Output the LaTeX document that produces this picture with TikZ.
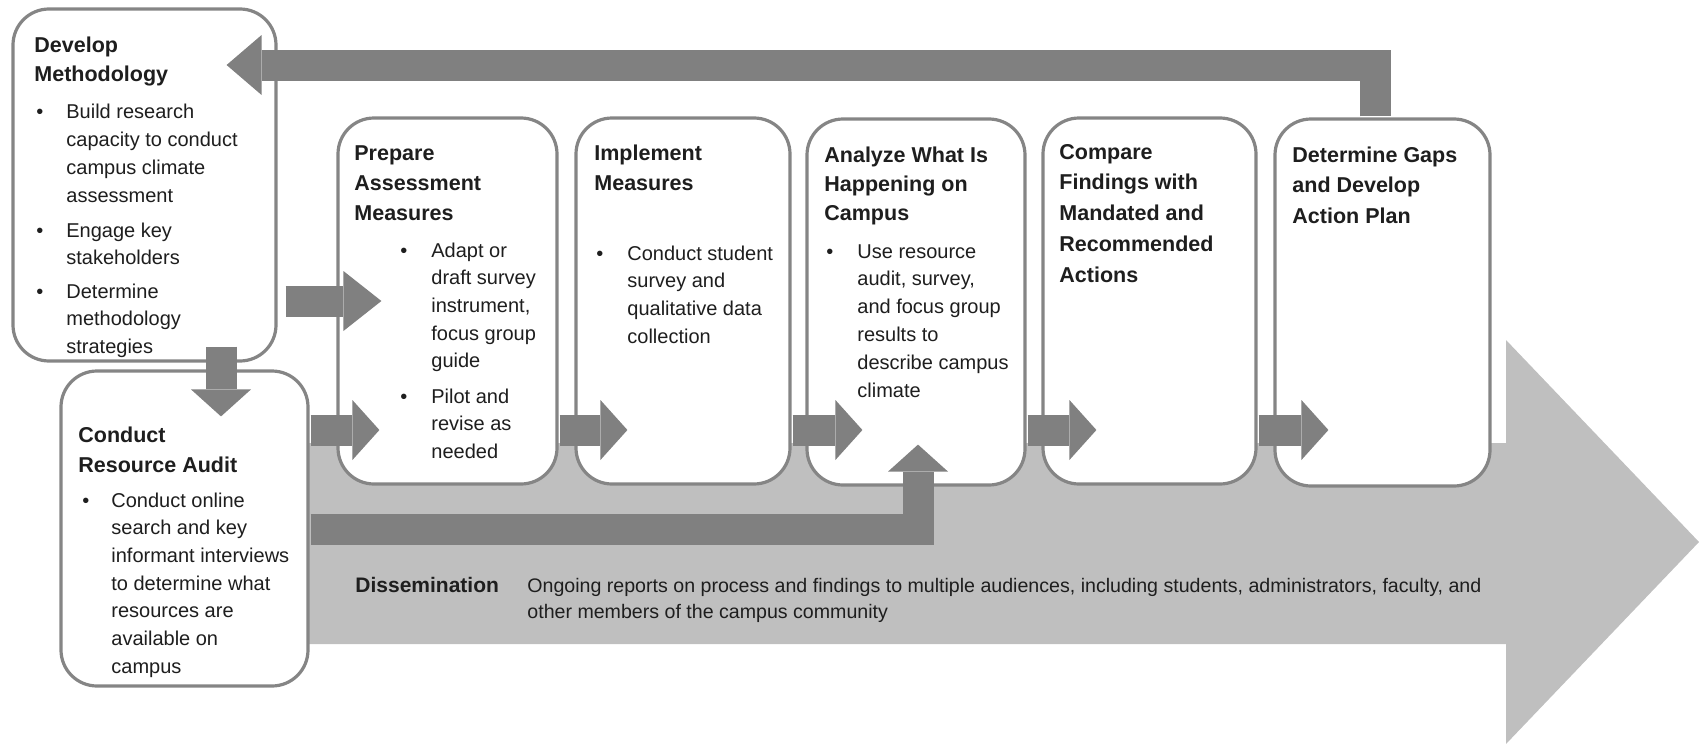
\documentclass[tikz,border=0pt]{standalone}
\usepackage{fontspec}
\setmainfont{Liberation Sans}
\usetikzlibrary{arrows.meta,calc}

\definecolor{flowgray}{HTML}{808080}
\definecolor{bandgray}{HTML}{BFBFBF}
\definecolor{rimgray}{HTML}{858585}
\definecolor{ink}{HTML}{1E1E1E}

% several text lines, one node per line, stacked at a fixed pitch
\newcommand{\txtlines}[6]{%
  \foreach \lntext [count=\idx] in {#6}{%
    \node[#5, anchor=base west] (#1-\idx) at (#2, {#3+(\idx-1)*#4}) {\lntext};}}
% a bulleted item: bullet at x=#2, text lines at x=#3
\newcommand{\bitem}[6]{%
  \node[dot] (#1-b) at (#2,#4) {\textbullet};
  \txtlines{#1}{#3}{#4}{#5}{body}{#6}}
% a rounded stage box between two corners
\newcommand{\stagebox}[5]{%
  \node[stage, minimum width={(#4-#2)*0.5pt}, minimum height={(#5-#3)*0.5pt}]
    (#1) at ({(#2+#4)/2},{(#3+#5)/2}) {};}

\tikzset{
  stage/.style={draw=rimgray, line width=1.6pt, rounded corners=18pt, fill=white, inner sep=0pt},
  ttl/.style={font=\fontsize{10.75}{15}\selectfont\bfseries, text=ink, inner sep=0pt},
  body/.style={font=\fontsize{10}{14}\selectfont, text=ink, inner sep=0pt},
  dot/.style={font=\fontsize{10}{14}\selectfont, text=ink, inner sep=0pt, anchor=base west},
  dishead/.style={font=\fontsize{10.5}{14}\selectfont\bfseries, text=ink, inner sep=0pt, anchor=base west},
  distext/.style={font=\fontsize{9.8}{13}\selectfont, text=ink, inner sep=0pt, anchor=base west},
  flow/.style={draw=flowgray, line width=15.5pt, line join=miter,
    -{Triangle[width=30pt,length=#1,line width=0pt]}},
  flow/.default=13.5pt,
}

\begin{document}
\begin{tikzpicture}[x=0.5pt, y=-0.5pt]
\useasboundingbox (0,0) rectangle (1699,744);

% wide dissemination arrow in the background
\fill[bandgray] (290,443) -- (1506,443) -- (1506,340) -- (1699,542)
  -- (1506,744) -- (1506,644) -- (290,644) -- cycle;

% stage boxes
\stagebox{dm}{13}{9}{276}{361}
\stagebox{ra}{61}{371}{308}{686}
\stagebox{pam}{338}{118}{557}{484}
\stagebox{im}{576}{118}{790}{484}
\stagebox{an}{807}{119}{1025}{485}
\stagebox{cf}{1043}{118}{1256}{484}
\stagebox{dg}{1275}{119}{1490}{486}

% arrow lanes and bends
\coordinate (lane1) at (0,301);
\coordinate (lane2) at (0,430);
\coordinate (lane3) at (0,529);
\coordinate (laneT) at (0,65);
\coordinate (upx) at (918,0);
\coordinate (dnx) at (221,0);
\coordinate (fbx) at (1375,0);

% connectors
\draw[flow=19pt] ($(dm.east |- lane1)+(8,0)$) -- ($(pam.west |- lane1)+(45,0)$);
\draw[flow] ($(ra.east |- lane2)+(1,0)$) -- ($(pam.west |- lane2)+(43,0)$);
\draw[flow] ($(pam.east |- lane2)+(1,0)$) -- ($(im.west |- lane2)+(53,0)$);
\draw[flow] ($(im.east |- lane2)+(1,0)$) -- ($(an.west |- lane2)+(57,0)$);
\draw[flow] ($(an.east |- lane2)+(1,0)$) -- ($(cf.west |- lane2)+(55,0)$);
\draw[flow] ($(cf.east |- lane2)+(1,0)$) -- ($(dg.west |- lane2)+(55,0)$);
\draw[flow] ($(ra.east |- lane3)+(1,0)$) -- (upx |- lane3) -- ($(an.south -| upx)+(0,-42)$);
\draw[flow] ($(dm.south -| dnx)+(0,-16)$) -- ($(ra.north -| dnx)+(0,47)$);
\draw[flow=17.5pt] ($(dg.north -| fbx)+(0,-1)$) -- (fbx |- laneT) -- ($(dm.east |- laneT)+(-51,0)$);

% Develop Methodology
\txtlines{dmT}{34}{53}{29}{ttl}{Develop, Methodology}
\bitem{dmA}{36}{66}{118}{28}{Build research, capacity to conduct, campus climate, assessment}
\bitem{dmE}{36}{66}{237}{27}{Engage key, stakeholders}
\bitem{dmD}{36}{66}{298}{27.5}{Determine, methodology, strategies}

% Conduct Resource Audit
\txtlines{raT}{78}{442}{30}{ttl}{Conduct, Resource Audit}
\bitem{raA}{82}{111}{507}{27.7}{Conduct online, search and key, informant interviews, to determine what, resources are, available on, campus}

% Prepare Assessment Measures
\txtlines{pamT}{354}{160}{30}{ttl}{Prepare, Assessment, Measures}
\bitem{pamA}{400}{431}{257}{27.7}{Adapt or, draft survey, {instrument,}, focus group, guide}
\bitem{pamB}{400}{431}{403}{27.5}{Pilot and, revise as, needed}

% Implement Measures
\txtlines{imT}{594}{160}{30}{ttl}{Implement, Measures}
\bitem{imA}{596}{627}{260}{27.7}{Conduct student, survey and, qualitative data, collection}

% Analyze What Is Happening on Campus
\txtlines{anT}{824}{162}{29}{ttl}{Analyze What Is, Happening on, Campus}
\bitem{anA}{826}{857}{258}{27.8}{Use resource, {audit, survey,}, and focus group, results to, describe campus, climate}

% Compare Findings
\txtlines{cfT}{1059}{159}{30.8}{ttl}{Compare, Findings with, Mandated and, Recommended, Actions}

% Determine Gaps
\txtlines{dgT}{1292}{162}{30.5}{ttl}{Determine Gaps, and Develop, Action Plan}

% Dissemination band text
\node[dishead] (dis) at (355,592) {Dissemination};
\node[distext] (dis-1) at (527,592) {Ongoing reports on process and findings to multiple audiences, including students, administrators, faculty, and};
\node[distext] (dis-2) at (527,618) {other members of the campus community};
\end{tikzpicture}
\end{document}
